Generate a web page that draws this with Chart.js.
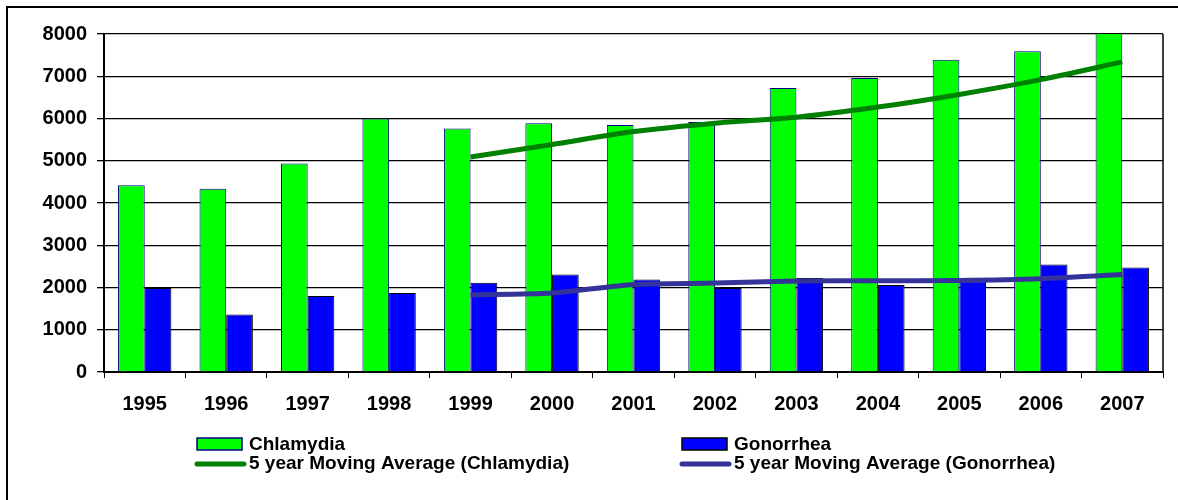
<!DOCTYPE html>
<html>
<head>
<meta charset="utf-8">
<script src="https://cdn.jsdelivr.net/npm/chart.js@4"></script>
<style>
	html, body { margin: 0; padding: 0; background: #fff; }
	#wrap { width: 1178px; height: 500px; }
</style>
</head>
<body>
<div id="wrap"><canvas id="myChart" width="1178" height="500"></canvas></div>
<script>
// values
const years = ["1995", "1996", "1997", "1998", "1999", "2000", "2001", "2002", "2003", "2004", "2005", "2006", "2007"];
const chlamydia = [4420, 4335, 4935, 6000, 5765, 5890, 5845, 5920, 6720, 6960, 7390, 7590, 8030];
const gonorrhea = [1990, 1360, 1800, 1870, 2110, 2305, 2190, 1990, 2225, 2060, 2150, 2545, 2475];
const avgChlamydia = [null, null, null, null, 5090, 5385, 5690, 5890, 6030, 6270, 6570, 6920, 7340];
const avgGonorrhea = [null, null, null, null, 1825, 1870, 2070, 2105, 2155, 2160, 2165, 2205, 2305];
const yTicks = [0, 1000, 2000, 3000, 4000, 5000, 6000, 7000, 8000];

const FONT = "'Liberation Sans', Arial, sans-serif";

// frame, plot border and the two-column legend
const decor = {
	id: "decor",
	afterDraw(chart) {
		const ctx = chart.ctx;
		const area = chart.chartArea;
		ctx.save();
		ctx.strokeStyle = "#000";
		ctx.lineWidth = 2;
		ctx.beginPath();
		ctx.moveTo(7, 500);
		ctx.lineTo(7, 7);
		ctx.lineTo(1178, 7);
		ctx.stroke();

		ctx.lineWidth = 1.5;
		ctx.beginPath();
		ctx.moveTo(area.right, area.top);
		ctx.lineTo(area.right, area.bottom);
		ctx.stroke();

		const ds = chart.data.datasets;
		const cols = [197, 682];
		ctx.font = "bold 19px " + FONT;
		ctx.fillStyle = "#000";
		ctx.textBaseline = "middle";
		// bars in row 1, averages in row 2
		[[ds[0], ds[2]], [ds[1], ds[3]]].forEach((pair, i) => {
			const x = cols[i];
			const bar = pair[0];
			ctx.fillStyle = bar.backgroundColor;
			ctx.fillRect(x, 438, 45, 12);
			ctx.strokeStyle = bar.borderColor;
			ctx.lineWidth = 1.5;
			ctx.strokeRect(x, 438, 45, 12);
			ctx.fillStyle = "#000";
			ctx.fillText(bar.label, x + 52, 445);

			const line = pair[1];
			ctx.strokeStyle = line.borderColor;
			ctx.lineWidth = 5;
			ctx.lineCap = "round";
			ctx.beginPath();
			ctx.moveTo(x, 464);
			ctx.lineTo(x + 47, 464);
			ctx.stroke();
			ctx.fillStyle = "#000";
			ctx.fillText(line.label, x + 52, 464);
		});
		ctx.restore();
	},
};

const ctx = document.getElementById("myChart").getContext("2d");
const myChart = new Chart(ctx, {
	type: "bar",
	data: {
		labels: years,
		datasets: [
			{
				label: "Chlamydia",
				data: chlamydia,
				backgroundColor: "#00ff00",
				borderColor: "#000080",
				borderWidth: 1,
				categoryPercentage: 0.655,
				barPercentage: 1,
				order: 2,
			},
			{
				label: "Gonorrhea",
				data: gonorrhea,
				backgroundColor: "#0000ff",
				borderColor: "#000000",
				borderWidth: 1,
				categoryPercentage: 0.655,
				barPercentage: 1,
				order: 2,
			},
			{
				type: "line",
				label: "5 year Moving Average (Chlamydia)",
				data: avgChlamydia,
				borderColor: "#008000",
				backgroundColor: "#008000",
				borderWidth: 5,
				pointRadius: 0,
				tension: 0.25,
				fill: false,
				order: 1,
			},
			{
				type: "line",
				label: "5 year Moving Average (Gonorrhea)",
				data: avgGonorrhea,
				borderColor: "#333399",
				backgroundColor: "#333399",
				borderWidth: 5,
				pointRadius: 0,
				tension: 0.25,
				fill: false,
				order: 0,
			},
		],
	},
	options: {
		responsive: false,
		animation: false,
		layout: { padding: { top: 34, right: 15, left: 0, bottom: 0 } },
		plugins: {
			legend: { display: false },
			tooltip: { enabled: false },
		},
		scales: {
			x: {
				afterFit: (scale) => { scale.height = 128; },
				grid: { display: true, drawOnChartArea: false, drawTicks: true, tickLength: 6, color: "#000", offset: true },
				border: { display: true, color: "#000", width: 2 },
				ticks: { color: "#000", padding: 14, font: { family: FONT, size: 20, weight: "bold" }, maxRotation: 0 },
			},
			y: {
				min: 0,
				max: 8000,
				afterFit: (scale) => { scale.width = 104; },
				afterBuildTicks: (scale) => { scale.ticks = yTicks.map((v) => ({ value: v })); },
				grid: { color: "#000", lineWidth: 1.3, tickLength: 7 },
				border: { display: true, color: "#000", width: 2 },
				ticks: {
					color: "#000",
					padding: 10,
					font: { family: FONT, size: 20, weight: "bold" },
					callback: (v) => String(v),
				},
			},
		},
	},
	plugins: [decor],
});
</script>
</body>
</html>
